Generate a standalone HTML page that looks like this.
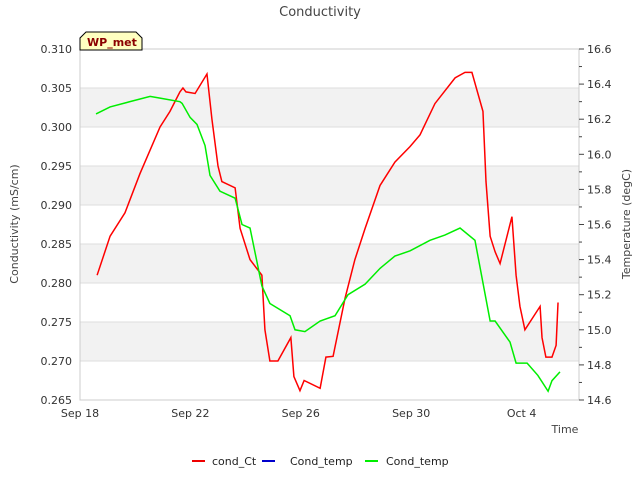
<!DOCTYPE html>
<html><head><meta charset="utf-8"><style>
body{margin:0;background:#fff;font-family:"Liberation Sans","DejaVu Sans",sans-serif;}
svg text{font-family:"DejaVu Sans","Liberation Sans",sans-serif;}
</style></head><body>
<svg id="c" width="640" height="480" xmlns="http://www.w3.org/2000/svg">
<text x="320" y="16" text-anchor="middle" font-size="13" fill="#444">Conductivity</text>
<g id="bands"></g>
<g id="grid"></g>
<rect x="80" y="49" width="499" height="351" fill="none" stroke="#ccc"/>
<g id="lax"></g>
<g id="rax"></g>
<g id="xax"></g>
<g id="series"></g>
<text transform="translate(18,224) rotate(-90)" text-anchor="middle" font-size="11" fill="#444">Conductivity (mS/cm)</text>
<text transform="translate(630,224) rotate(-90)" text-anchor="middle" font-size="11" fill="#444">Temperature (degC)</text>
<text x="565" y="433" text-anchor="middle" font-size="11" fill="#444">Time</text>
<g>
<path d="M80,50 L80,38 L86,32 L136,32 L142,38 L142,50 Z" fill="#ffffc0" stroke="#000" stroke-width="1"/>
<text x="87" y="46" font-size="11" font-weight="bold" fill="#8b0000">WP_met</text>
</g>
<g>
<line x1="192" y1="461" x2="205" y2="461" stroke="#e00" stroke-width="2"/>
<text x="212" y="465" font-size="11" fill="#222">cond_Ct</text>
<line x1="262" y1="461" x2="275" y2="461" stroke="#00c" stroke-width="2"/>
<text x="290" y="465" font-size="11" fill="#222">Cond_temp</text>
<line x1="365" y1="461" x2="378" y2="461" stroke="#0e0" stroke-width="2"/>
<text x="386" y="465" font-size="11" fill="#222">Cond_temp</text>
</g>
</svg>
<script>
// data: days since Sep 18
const condDays=[0.62,1.09,1.63,2.17,2.90,3.26,3.62,3.73,3.84,4.17,4.60,4.78,5.0,5.14,5.62,5.80,6.16,6.59,6.70,6.88,7.17,7.64,7.75,7.97,8.12,8.70,8.91,9.17,9.60,9.96,10.33,10.87,11.41,11.96,12.32,12.86,13.59,13.95,14.20,14.60,14.71,14.86,15.04,15.22,15.65,15.80,15.94,16.12,16.67,16.74,16.88,17.10,17.25,17.32];
const condVals=[0.281,0.286,0.289,0.294,0.300,0.302,0.3045,0.305,0.3045,0.3043,0.3068,0.301,0.295,0.293,0.2922,0.287,0.283,0.281,0.274,0.270,0.270,0.273,0.268,0.2662,0.2675,0.2665,0.2705,0.2706,0.278,0.283,0.287,0.2925,0.2955,0.2975,0.299,0.303,0.3063,0.307,0.307,0.302,0.293,0.286,0.284,0.2825,0.2885,0.281,0.277,0.274,0.277,0.273,0.2705,0.2705,0.272,0.2775];
const tempDays=[0.58,1.09,1.81,2.54,2.90,3.62,3.70,3.99,4.24,4.53,4.71,5.07,5.62,5.87,6.16,6.59,6.88,7.61,7.79,8.15,8.70,9.24,9.71,10.33,10.87,11.41,11.96,12.68,13.22,13.77,14.31,14.86,15.04,15.58,15.80,16.20,16.59,16.96,17.10,17.39];
const tempVals=[16.23,16.27,16.30,16.33,16.32,16.30,16.29,16.21,16.17,16.05,15.88,15.79,15.75,15.60,15.58,15.25,15.15,15.08,15.00,14.99,15.05,15.08,15.20,15.26,15.35,15.42,15.45,15.51,15.54,15.58,15.51,15.05,15.05,14.93,14.81,14.81,14.74,14.65,14.71,14.76];
const leftTicks=[0.265,0.270,0.275,0.280,0.285,0.290,0.295,0.300,0.305,0.310];
const rightTicks=[14.6,14.8,15.0,15.2,15.4,15.6,15.8,16.0,16.2,16.4,16.6];
const xTickDays=[0,4,8,12,16];
const xTickLabels=["Sep 18","Sep 22","Sep 26","Sep 30","Oct 4"];

const NS="http://www.w3.org/2000/svg";
const X0=80,X1=579,Y0=400,Y1=49;
const xs=d=>X0+d*27.6;
const yl=v=>Y0-(v-0.265)/(0.045)*(Y0-Y1);
const yr=v=>Y0-(v-14.6)/2*(Y0-Y1);
function mk(tag,attrs,parent){const e=document.createElementNS(NS,tag);for(const k in attrs)e.setAttribute(k,attrs[k]);document.getElementById(parent).appendChild(e);return e;}
for(let i=0;i<leftTicks.length-1;i++){
  if(i%2===1){const r=mk('rect',{x:X0,y:yl(leftTicks[i+1]),width:X1-X0,height:yl(leftTicks[i])-yl(leftTicks[i+1]),fill:'#f2f2f2'},'bands');
  
  }
}
leftTicks.forEach(v=>{
  const g=mk('line',{x1:X0,x2:X1,y1:yl(v),y2:yl(v),stroke:'#ddd'},'grid');
  
  
  const t=mk('text',{x:X0-8,y:yl(v)+4,'text-anchor':'end','font-size':'11',fill:'#333'},'lax');t.textContent=v.toFixed(3);
  
  
});
rightTicks.forEach(v=>{
  const t=mk('text',{x:X1+8,y:yr(v)+4,'font-size':'11',fill:'#333'},'rax');t.textContent=v.toFixed(1);
  
  
  mk('line',{x1:X1,x2:X1+5,y1:yr(v),y2:yr(v),stroke:'#444'},'rax');
  if(v<16.6) mk('line',{x1:X1,x2:X1+3,y1:yr(v+0.1),y2:yr(v+0.1),stroke:'#444'},'rax');
});
xTickDays.forEach((d,i)=>{
  const t=mk('text',{x:xs(d),y:Y0+17,'text-anchor':'middle','font-size':'11',fill:'#333'},'xax');t.textContent=xTickLabels[i];
  
  
});
const p1=mk('polyline',{points:condDays.map((d,i)=>xs(d)+','+yl(condVals[i])).join(' '),fill:'none',stroke:'#f00','stroke-width':'1.5'},'series');


const p2=mk('polyline',{points:tempDays.map((d,i)=>xs(d)+','+yr(tempVals[i])).join(' '),fill:'none',stroke:'#0e0','stroke-width':'1.5'},'series');


</script>
</body></html>
